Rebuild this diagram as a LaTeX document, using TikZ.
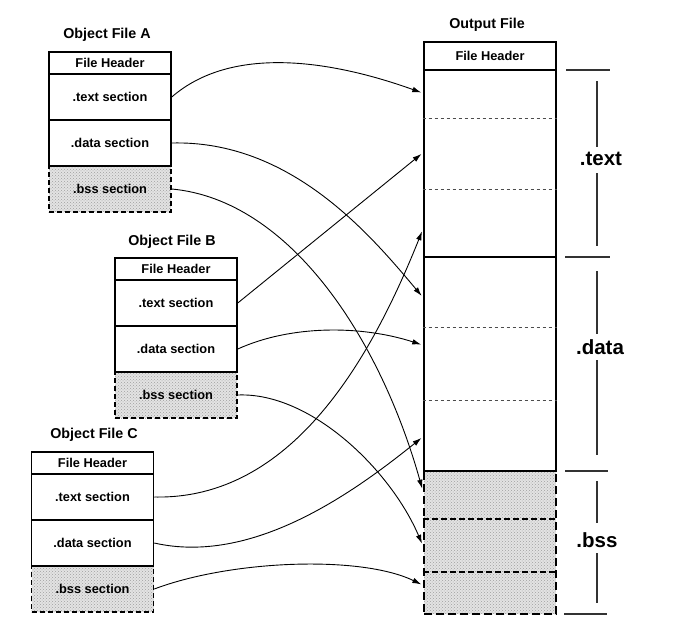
\documentclass[tikz,border=0pt]{standalone}
\usepackage{fontspec}
\setmainfont{Liberation Sans}
\usetikzlibrary{arrows.meta,patterns}
\begin{document}
\begin{tikzpicture}[x=1pt,y=-1pt,
  lbl/.style={font=\bfseries\fontsize{12.8}{14}\selectfont},
  ttl/.style={font=\bfseries\fontsize{14.3}{16}\selectfont},
  big/.style={font=\bfseries\fontsize{20.5}{22}\selectfont,inner sep=3pt},
  sec/.style={lbl,draw=black,line width=1.5pt,minimum width=122pt,minimum height=46pt,inner sep=0pt},
  hdr/.style={sec,minimum height=22pt},
  stipple/.style={preaction={fill=gray!22},pattern={crosshatch dots},pattern color=gray!75},
  bsssec/.style={sec,stipple,dash pattern=on 5pt off 3pt},
  osec/.style={lbl,draw=black,line width=2.8pt,minimum width=132pt,inner sep=0pt},
  obss/.style={osec,stipple,dash pattern=on 8pt off 4pt},
  idash/.style={draw=black!70,line width=0.8pt,dash pattern=on 3pt off 3pt},
  bdash/.style={draw=black,line width=1.5pt,dash pattern=on 6pt off 3pt},
  link/.style={draw=black,line width=0.9pt,-{Latex[length=9pt,width=5.5pt]},shorten >=1.4pt},
  brk/.style={draw=black!80,line width=1.1pt}
]
\useasboundingbox (0,0) rectangle (697,630);
% ---------- Object File A ----------
\node[ttl] (tA) at (107,35) {Object File A};
\node[bsssec] (Ab) at (110,189) {.bss section};
\node[hdr] (Ah) at (110,63) {File Header};
\node[sec] (At) at (110,97) {.text section};
\node[sec] (Ad) at (110,143) {.data section};
% ---------- Object File B ----------
\node[ttl] (tB) at (172,242) {Object File B};
\node[bsssec] (Bb) at (176,395) {.bss section};
\node[hdr] (Bh) at (176,269) {File Header};
\node[sec] (Bt) at (176,303) {.text section};
\node[sec] (Bd) at (176,349) {.data section};
% ---------- Object File C ----------
\node[ttl] (tC) at (94,435) {Object File C};
\node[bsssec] (Cb) at (92.5,589) {.bss section};
\node[hdr] (Ch) at (92.5,463) {File Header};
\node[sec] (Ct) at (92.5,497) {.text section};
\node[sec] (Cd) at (92.5,543) {.data section};
% ---------- Output File ----------
\node[ttl] (tO) at (487,25) {Output File};
\node[obss,minimum height=143pt] (Ob) at (490,542.5) {};
\node[osec,minimum height=28pt] (Oh) at (490,56) {File Header};
\node[osec,minimum height=187pt] (Ot) at (490,163.5) {};
\node[osec,minimum height=214pt] (Od) at (490,364) {};
\draw[idash] (Ot.west |- 0,118) -- (Ot.east |- 0,118);
\draw[idash] (Ot.west |- 0,189) -- (Ot.east |- 0,189);
\draw[idash] (Od.west |- 0,327) -- (Od.east |- 0,327);
\draw[idash] (Od.west |- 0,400) -- (Od.east |- 0,400);
\draw[bdash] (Ob.west |- 0,519) -- (Ob.east |- 0,519);
\draw[bdash] (Ob.west |- 0,572) -- (Ob.east |- 0,572);
% ---------- right brackets ----------
\node[big] (Lt) at (601,159) {.text};
\node[big] (Ld) at (600,347) {.data};
\node[big] (Lb) at (597,540) {.bss};
\draw[brk] (566,70) -- (610,70);
\draw[brk] (565,257) -- (610,257);
\draw[brk] (565,471) -- (608,471);
\draw[brk] (564,614) -- (607,614);
\draw[brk] (597,81) -- (597,147);
\draw[brk] (597,173) -- (597,246);
\draw[brk] (597,271) -- (597,334);
\draw[brk] (597,360) -- (597,455);
\draw[brk] (597,481) -- (597,523);
\draw[brk] (597,553) -- (597,603);
% ---------- connectors ----------
\draw[link] (At.east) .. controls +(60,-52) and +(-92,-33) .. (Ot.west |- 0,93);
\draw[link] (Ad.east) .. controls +(119,-3) and +(-52,-62) .. (Od.west |- 0,297);
\draw[link] (Ab.east) .. controls +(119,11) and +(-42,-150) .. (Ob.west |- 0,490);
\draw[link] (Bt.east) -- (Ot.west |- 0,153);
\draw[link] (Bd.east) .. controls +(53,-24) and +(-62,-20) .. (Od.west |- 0,345);
\draw[link] (Bb.east) .. controls +(73,-3) and +(-32,-75) .. (Ob.west |- 0,545);
\draw[link] (Ct.east) .. controls +(137,3) and +(-52,130) .. (Ot.west |- 0,230);
\draw[link] (Cd.east) .. controls +(97,22) and +(-72,58) .. (Od.west |- 0,437);
\draw[link] (Cb.east) .. controls +(77,-29) and +(-62,-30) .. (Ob.west |- 0,585);
\end{tikzpicture}
\end{document}
